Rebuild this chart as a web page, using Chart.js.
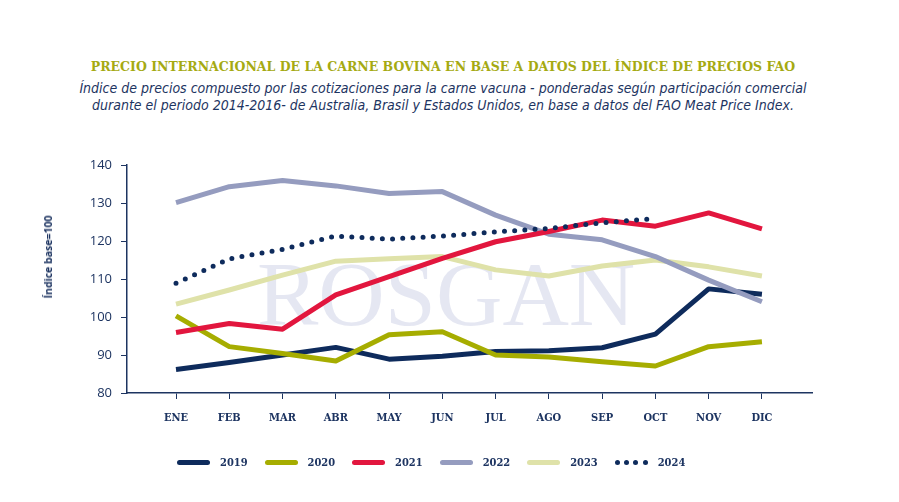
<!DOCTYPE html>
<html>
<head>
<meta charset="utf-8">
<script src="https://cdn.jsdelivr.net/npm/chart.js@4.4.0/dist/chart.umd.min.js"></script>
<style>
  html, body { margin:0; padding:0; background:#ffffff; }
  body { width:899px; height:502px; position:relative; overflow:hidden; }
  #title { position:absolute; left:0; width:886px; top:59px; text-align:center;
    font-family:"DejaVu Serif",serif; font-weight:bold; font-size:12.5px; color:#a5aa12; }
  #sub { position:absolute; left:0; width:886px; top:80px; text-align:center;
    font-family:"Liberation Sans Narrow","DejaVu Sans Condensed",sans-serif; font-style:italic; font-size:14px; line-height:17px; color:#1d3461; }
  #ytitle { position:absolute; left:48px; top:257px; transform:translate(-50%,-50%) rotate(-90deg); white-space:nowrap;
    font-family:"Open Sans",sans-serif; font-weight:bold; font-size:10.5px; color:#1d3461; }
  #c { position:absolute; left:0; top:0; }
  #legend { position:absolute; left:177px; top:454px; display:flex; align-items:center; height:16px;
    font-family:"DejaVu Serif Condensed","DejaVu Serif",serif; font-weight:bold; font-size:11px; color:#1d3461; }
  .item { display:flex; align-items:center; margin-right:17px; }
  .ln { width:33px; height:5px; border-radius:3px; margin-right:10px; }
  .dots { width:33px; height:5px; margin-right:10px; display:flex; justify-content:space-between; }
  .dots span { width:5px; height:5px; border-radius:50%; background:#0e2b5c; }
</style>
</head>
<body>
<div id="title">PRECIO INTERNACIONAL DE LA CARNE BOVINA EN BASE A DATOS DEL ÍNDICE DE PRECIOS FAO</div>
<div id="sub">Índice de precios compuesto por las cotizaciones para la carne vacuna - ponderadas según participación comercial<br>durante el periodo 2014-2016- de Australia, Brasil y Estados Unidos, en base a datos del FAO Meat Price Index.</div>
<canvas id="c" width="899" height="502"></canvas>
<div id="ytitle">Índice base=100</div>
<div id="legend"></div>
<script>
const months = ["ENE","FEB","MAR","ABR","MAY","JUN","JUL","AGO","SEP","OCT","NOV","DIC"];
const yTicks = [80, 90, 100, 110, 120, 130, 140];
const seriesNames = ["2019","2020","2021","2022","2023","2024"];
const v2019 = [86.2, 88.0, 90.0, 92.0, 88.9, 89.7, 90.9, 91.1, 91.9, 95.5, 107.4, 106.0];
const v2020 = [100.3, 92.2, 90.4, 88.4, 95.3, 96.1, 90.0, 89.5, 88.2, 87.1, 92.2, 93.5];
const v2021 = [95.9, 98.3, 96.8, 105.8, 110.6, 115.4, 119.8, 122.5, 125.5, 123.9, 127.4, 123.2];
const v2022 = [130.1, 134.3, 135.9, 134.5, 132.5, 133.0, 126.8, 121.8, 120.3, 115.9, 109.7, 104.0];
const v2023 = [103.4, 107.1, 111.0, 114.7, 115.3, 115.9, 112.4, 110.8, 113.4, 115.0, 113.2, 110.8];
const v2024 = [108.9, 115.3, 117.8, 121.3, 120.5, 121.3, 122.4, 123.3, 124.8, 125.9, null, null];

const colors = ["#0e2b5c", "#a6ad00", "#e2163e", "#959cbf", "#dfe2a9", "#0e2b5c"];
const values = [v2019, v2020, v2021, v2022, v2023, v2024];
const NAVY = "#1d3461";

const datasets = values.map((arr, k) => ({
  label: seriesNames[k],
  data: arr.map((v, i) => ({x: i, y: v})),
  borderColor: colors[k],
  backgroundColor: colors[k],
  borderWidth: 5,
  pointRadius: 0,
  tension: 0,
  spanGaps: false,
  borderCapStyle: k === 5 ? "round" : "butt",
  borderJoinStyle: "round",
  borderDash: k === 5 ? [0, 10.2] : [],
  order: [5, 4, 2, 3, 6, 1][k]
}));

const watermark = {
  id: "watermark",
  beforeDatasetsDraw(chart) {
    const {ctx, chartArea} = chart;
    ctx.save();
    ctx.font = "92px 'Liberation Serif', serif";
    ctx.fillStyle = "rgba(218,221,236,0.7)";
    ctx.textBaseline = "alphabetic";
    ctx.fillText("ROSGAN", chartArea.left + 130, chartArea.top + 160);
    ctx.restore();
  }
};

new Chart(document.getElementById("c"), {
  type: "line",
  data: { datasets },
  plugins: [watermark],
  options: {
    responsive: false,
    animation: false,
    layout: { padding: { left: 37, top: 165, right: 87, bottom: 69 } },
    plugins: { legend: { display: false }, tooltip: { enabled: false } },
    scales: {
      x: {
        type: "linear",
        min: -0.92, max: 11.94,
        afterFit(s) { s.height = 40; },
        afterBuildTicks(s) { s.ticks = months.map((m, i) => ({value: i})); },
        grid: { drawOnChartArea: false, drawTicks: true, tickLength: 6, color: NAVY, tickWidth: 1 },
        border: { display: true, color: NAVY, width: 1.5 },
        ticks: {
          padding: 13,
          color: NAVY,
          font: { family: "'DejaVu Serif Condensed','DejaVu Serif',serif", weight: "bold", size: 11 },
          callback: (v) => months[v]
        }
      },
      y: {
        min: 80, max: 140,
        afterFit(s) { s.width = 90; },
        afterBuildTicks(s) { s.ticks = yTicks.map(v => ({value: v})); },
        grid: { drawOnChartArea: false, drawTicks: true, tickLength: 6, color: NAVY },
        border: { display: true, color: NAVY, width: 1.5 },
        ticks: {
          padding: 9,
          color: NAVY,
          font: { family: "'Open Sans',sans-serif", size: 13 }
        }
      }
    }
  }
});

const leg = document.getElementById("legend");
seriesNames.forEach((n, k) => {
  const it = document.createElement("div");
  it.className = "item";
  if (k === 5) {
    it.innerHTML = '<div class="dots"><span></span><span></span><span></span><span></span></div>' + n;
  } else {
    it.innerHTML = '<div class="ln" style="background:' + colors[k] + '"></div>' + n;
  }
  leg.appendChild(it);
});
</script>
</body>
</html>
